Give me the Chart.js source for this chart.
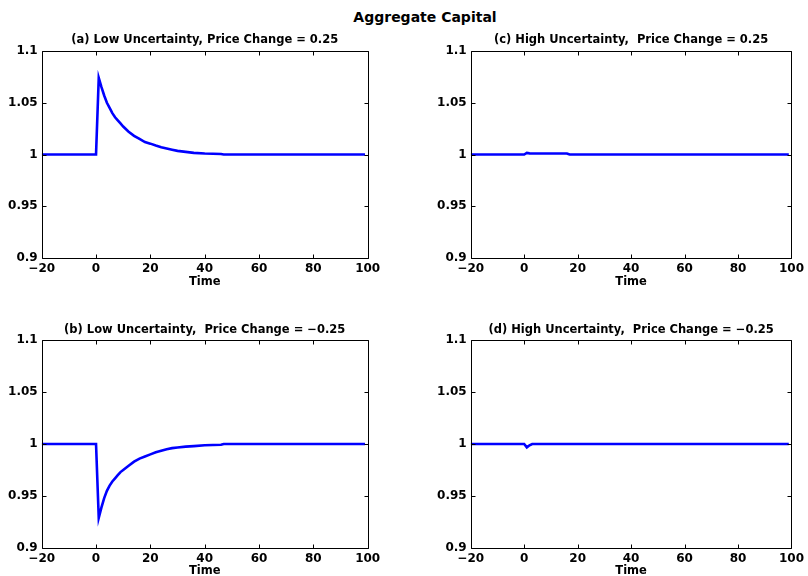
<!DOCTYPE html>
<html>
<head>
<meta charset="utf-8">
<script src="https://cdn.jsdelivr.net/npm/chart.js@4.4.1/dist/chart.umd.min.js"></script>
<style>
  body { margin: 0; background: #fff; width: 808px; height: 576px; overflow: hidden; position: relative; }
  .sup { position: absolute; left: 325px; width: 200px; top: 9px; line-height: 16px; text-align: center;
         font: bold 14px "DejaVu Sans", sans-serif; color: #000; }
  canvas { position: absolute; }
</style>
</head>
<body>
<div class="sup">Aggregate Capital</div>
<canvas id="ga" style="left:0px;top:28px;width:404px;height:262px"></canvas>
<canvas id="gc" style="left:404px;top:28px;width:404px;height:262px"></canvas>
<canvas id="gb" style="left:0px;top:317px;width:404px;height:261px"></canvas>
<canvas id="gd" style="left:404px;top:317px;width:404px;height:261px"></canvas>
<script>
const timeA = [-20, 0, 1, 2, 3, 4, 5, 6, 7, 8, 9, 10, 12, 14, 16, 18, 20, 22, 24, 26, 28, 30, 33, 36, 40, 46, 47, 99];
const capA  = [1, 1, 1.074, 1.065, 1.057, 1.050, 1.045, 1.040, 1.036, 1.033, 1.030, 1.027, 1.022, 1.018, 1.015, 1.012,
               1.0105, 1.0087, 1.0071, 1.0058, 1.0046, 1.0035, 1.0025, 1.0016, 1.0009, 1.0005, 1, 1];
const timeB = [-20, 0, 1, 2, 3, 4, 5, 6, 7, 8, 9, 10, 12, 14, 16, 18, 20, 22, 24, 26, 28, 30, 33, 36, 40, 46, 47, 99];
const capB  = [1, 1, 0.929, 0.939, 0.948, 0.955, 0.960, 0.964, 0.967, 0.970, 0.973, 0.975, 0.979, 0.983, 0.986, 0.988,
               0.990, 0.992, 0.9935, 0.995, 0.996, 0.9966, 0.9975, 0.998, 0.9988, 0.9993, 1, 1];
const timeC = [-20, 0, 1, 2, 16, 17, 99];
const capC  = [1, 1, 1.0015, 1.0011, 1.0010, 1, 1];
const timeD = [-20, 0, 1, 2, 3, 99];
const capD  = [1, 1, 0.9968, 0.9988, 1, 1];

const xTicks = [-20, 0, 20, 40, 60, 80, 100];
const yTicks = [0.9, 0.95, 1, 1.05, 1.1];
const yLabels = ['0.9', '0.95', '1', '1.05', '1.1'];

const FONT = '"DejaVu Sans", sans-serif';

// matlab style box with inward ticks on all sides
const boxPlugin = {
  id: 'box',
  afterDatasetsDraw(chart) {
    const { ctx, chartArea: a, scales } = chart;
    const l = Math.round(a.left) + 0.5, r = Math.round(a.right) + 0.5;
    const t = Math.round(a.top) + 0.5, b = Math.round(a.bottom) + 0.5;
    ctx.save();
    ctx.strokeStyle = '#000';
    ctx.lineWidth = 1;
    ctx.beginPath();
    ctx.rect(l, t, r - l, b - t);
    xTicks.forEach(v => {
      const x = Math.round(scales.x.getPixelForValue(v)) + 0.5;
      ctx.moveTo(x, b); ctx.lineTo(x, b - 4);
      ctx.moveTo(x, t); ctx.lineTo(x, t + 4);
    });
    yTicks.forEach(v => {
      const y = Math.round(scales.y.getPixelForValue(v)) + 0.5;
      ctx.moveTo(l, y); ctx.lineTo(l + 4, y);
      ctx.moveTo(r, y); ctx.lineTo(r - 4, y);
    });
    ctx.stroke();
    ctx.restore();
  }
};

function makeChart(id, title, times, values, o) {
  new Chart(document.getElementById(id), {
    type: 'line',
    data: {
      datasets: [{
        data: times.map((t, i) => ({ x: t, y: values[i] })),
        borderColor: '#0000ff',
        borderWidth: 2.6,
        pointRadius: 0,
        tension: 0
      }]
    },
    options: {
      responsive: false,
      animation: false,
      layout: { padding: { left: o.padL, right: o.padR, top: 0, bottom: 0 } },
      plugins: {
        legend: { display: false },
        tooltip: { enabled: false },
        title: {
          display: true, text: title, color: '#000', fullSize: false,
          font: { family: FONT, size: 11.5, weight: 'bold', lineHeight: 1.2 },
          padding: { top: o.titleTop, bottom: 23 - 13.8 - o.titleTop }
        }
      },
      scales: {
        x: {
          type: 'linear', min: -20, max: 100,
          afterBuildTicks: s => { s.ticks = xTicks.map(v => ({ value: v })); },
          afterFit: s => { s.height = o.xH; },
          grid: { display: false, drawTicks: false },
          border: { display: false },
          ticks: {
            color: '#000', padding: 4, maxRotation: 0, autoSkip: false,
            font: { family: FONT, size: 12, weight: 'bold' },
            callback: v => String(v).replace('-', '\u2212')
          },
          title: {
            display: true, text: 'Time', color: '#000', padding: { top: 0, bottom: o.timePad },
            font: { family: FONT, size: 11.5, weight: 'bold', lineHeight: 1.2 }
          }
        },
        y: {
          min: 0.9, max: 1.1,
          afterBuildTicks: s => { s.ticks = yTicks.map(v => ({ value: v })); },
          afterFit: s => { s.width = 41.7; },
          grid: { display: false, drawTicks: false },
          border: { display: false },
          ticks: {
            color: '#000', padding: 4, autoSkip: false,
            font: { family: FONT, size: 12, weight: 'bold' },
            callback: (v, i) => yLabels[i]
          }
        }
      }
    },
    plugins: [boxPlugin]
  });
}

makeChart('ga', '(a) Low Uncertainty, Price Change = 0.25', timeA, capA,
  { padL: 0, padR: 36.3, titleTop: 5.1, xH: 32, timePad: 1 });
makeChart('gc', '(c) High Uncertainty,  Price Change = 0.25', timeC, capC,
  { padL: 25, padR: 11.3, titleTop: 5.1, xH: 32, timePad: 1 });
makeChart('gb', '(b) Low Uncertainty,  Price Change = \u22120.25', timeB, capB,
  { padL: 0, padR: 36.3, titleTop: 6.1, xH: 30, timePad: 0 });
makeChart('gd', '(d) High Uncertainty,  Price Change = \u22120.25', timeD, capD,
  { padL: 25, padR: 11.3, titleTop: 6.1, xH: 30, timePad: 0 });
</script>
</body>
</html>
